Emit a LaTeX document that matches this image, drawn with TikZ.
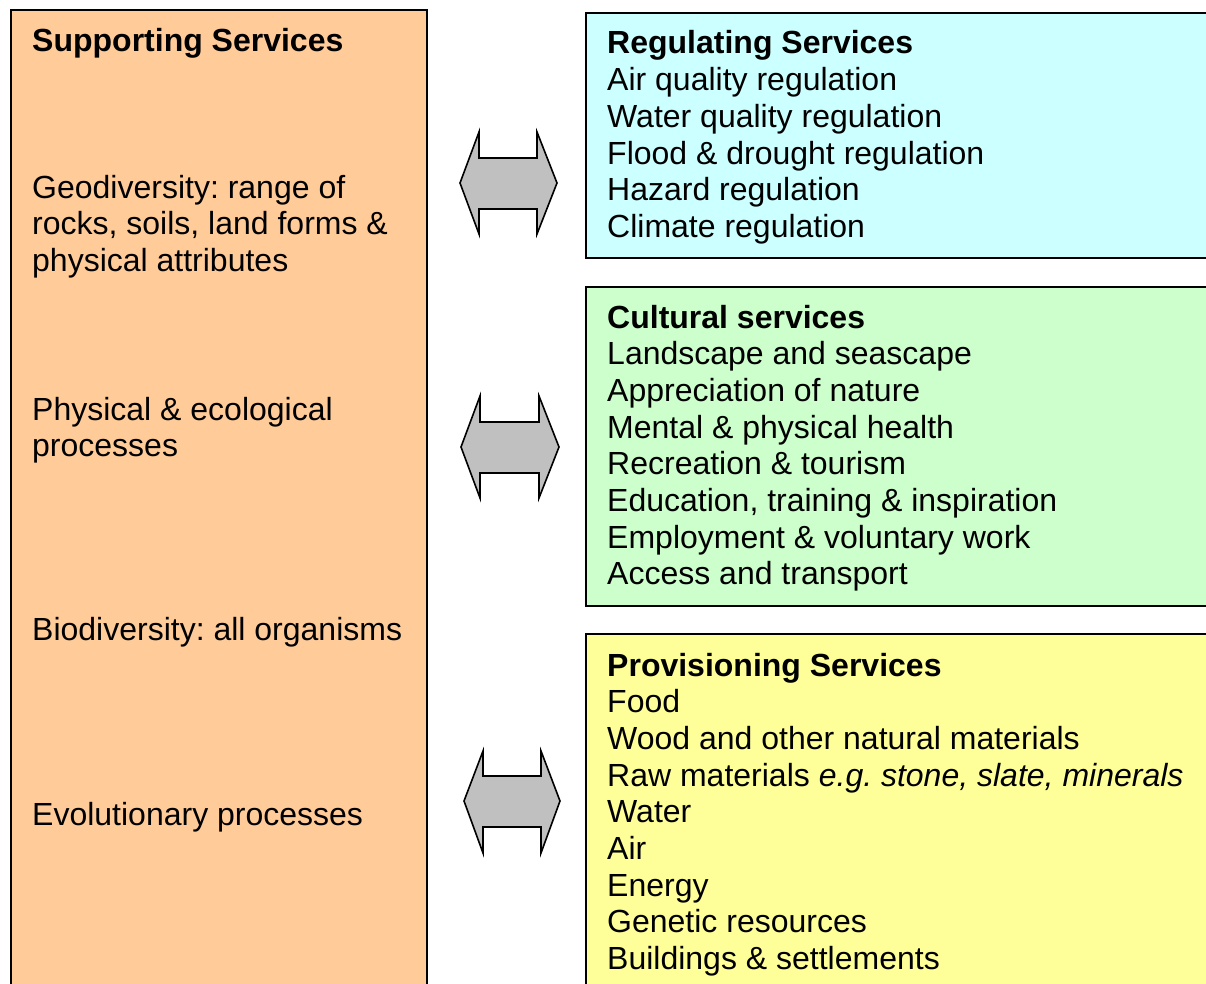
\documentclass[tikz,border=0pt]{standalone}
\usepackage{fontspec}
\setmainfont{Liberation Sans}
\frenchspacing
\definecolor{supp}{HTML}{FFCC99}
\definecolor{regu}{HTML}{CCFFFF}
\definecolor{cult}{HTML}{CCFFCC}
\definecolor{prov}{HTML}{FFFF99}
\definecolor{arr}{HTML}{C0C0C0}
\tikzset{
  panel/.style={draw=black, line width=1.4pt},
  txt/.style={anchor=base west, inner sep=0pt, font=\fontsize{32}{36.7}\selectfont\frenchspacing},
  ttl/.style={txt, font=\fontsize{32}{36.7}\selectfont\frenchspacing\bfseries},
  blockarrow/.style={draw=black, fill=arr, line width=1.6pt, line join=miter},
}
\begin{document}
\begin{tikzpicture}[x=1pt, y=-1pt]
\useasboundingbox (0,0) rectangle (1206,984);
\clip (0,0) rectangle (1206,984);
% panels
\draw[panel, fill=supp] (11,10) rectangle (427,1000);
\draw[panel, fill=regu] (586,13) rectangle (1220,258);
\draw[panel, fill=cult] (586,287) rectangle (1220,606);
\draw[panel, fill=prov] (586,634) rectangle (1220,1000);
% left texts
\node[ttl] (s0) at (32,52) {Supporting Services};
\node[txt] (s1) at (32,198.5) {Geodiversity: range of};
\node[txt] (s2) at (32,235) {rocks, soils, land forms \&};
\node[txt] (s3) at (32,271.5) {physical attributes};
\node[txt] (s4) at (32,420) {Physical \& ecological};
\node[txt] (s5) at (32,456) {processes};
\node[txt] (s6) at (32,640) {Biodiversity: all organisms};
\node[txt] (s7) at (32,825) {Evolutionary processes};
% regulating
\node[ttl] (r0) at (607,54) {Regulating Services};
\foreach \t [count=\i] in {Air quality regulation, Water quality regulation, Flood \& drought regulation, Hazard regulation, Climate regulation}
  \node[txt] (r\i) at (607,54+36.7*\i) {\t};
% cultural
\node[ttl] (c0) at (607,328) {Cultural services};
\foreach \t [count=\i] in {Landscape and seascape, Appreciation of nature, Mental \& physical health, Recreation \& tourism, {Education, training \& inspiration}, Employment \& voluntary work, Access and transport}
  \node[txt] (c\i) at (607,328+36.7*\i) {\t};
% provisioning
\node[ttl] (p0) at (607,676) {Provisioning Services};
\foreach \t [count=\i] in {Food, Wood and other natural materials, {Raw materials \textit{e.g. stone, slate, minerals}}, Water, Air, Energy, Genetic resources, Buildings \& settlements}
  \node[txt] (p\i) at (607,676+36.7*\i) {\t};
% block double arrows
\draw[blockarrow] (460,183) -- (479,132) -- (479,158) -- (537,158) -- (537,132) -- (557,183) -- (537,234) -- (537,209) -- (479,209) -- (479,234) -- cycle;
\draw[blockarrow] (461,447) -- (480,396) -- (480,422) -- (539,422) -- (539,396) -- (559,447) -- (539,498) -- (539,473) -- (480,473) -- (480,498) -- cycle;
\draw[blockarrow] (464,801) -- (483,751) -- (483,776) -- (541,776) -- (541,751) -- (560,801) -- (541,853) -- (541,827) -- (483,827) -- (483,853) -- cycle;
\end{tikzpicture}
\end{document}
